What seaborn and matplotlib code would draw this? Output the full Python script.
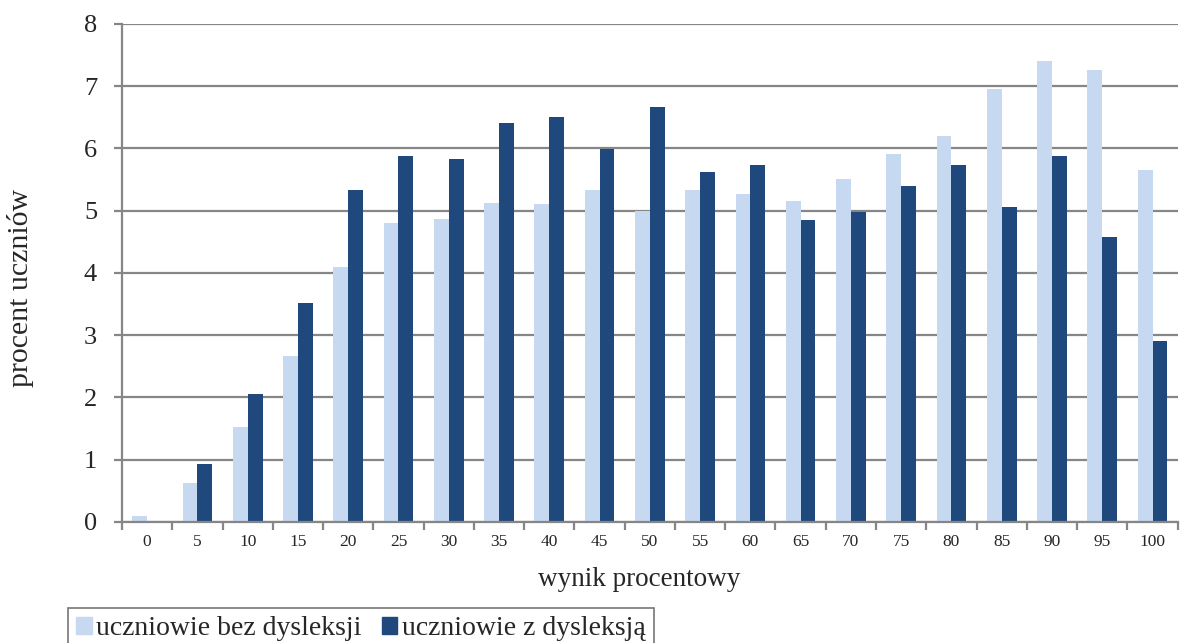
import matplotlib
matplotlib.use("Agg")
import matplotlib.pyplot as plt
import numpy as np
import pandas as pd
import seaborn as sns
from matplotlib.ticker import FixedLocator

scores = ["0", "5", "10", "15", "20", "25", "30", "35", "40", "45", "50",
          "55", "60", "65", "70", "75", "80", "85", "90", "95", "100"]
bez_dysleksji = [0.10, 0.62, 1.53, 2.66, 4.09, 4.80, 4.87, 5.12, 5.11, 5.34, 4.99,
                 5.34, 5.27, 5.16, 5.51, 5.91, 6.20, 6.96, 7.40, 7.26, 5.65]
z_dysleksja = [0.02, 0.93, 2.06, 3.51, 5.33, 5.88, 5.83, 6.41, 6.51, 5.99, 6.66,
               5.63, 5.73, 4.85, 4.98, 5.40, 5.73, 5.06, 5.88, 4.58, 2.91]
series = ["uczniowie bez dysleksji", "uczniowie z dysleksją"]
colors = ["#C6D9F1", "#1F497D"]

df = pd.DataFrame({
    "wynik": scores * 2,
    "procent": bez_dysleksji + z_dysleksja,
    "grupa": [series[0]] * len(scores) + [series[1]] * len(scores),
})

sns.set_style("white")
plt.rcParams["font.family"] = ["Liberation Serif", "DejaVu Serif"]

grid_col = "#868686"

fig = plt.figure(figsize=(11.8, 6.43), dpi=100)
ax = fig.add_axes([0.1034, 0.1882, 0.8946, 0.7745])

sns.barplot(data=df, x="wynik", y="procent", hue="grupa", order=scores,
            hue_order=series, palette=colors, width=0.59, gap=0,
            saturation=1, linewidth=0, ax=ax, legend=False)

ax.set_ylim(0, 8)
ax.set_xlim(-0.5, len(scores) - 0.5)
ax.set_yticks(range(0, 9))
ax.yaxis.grid(True, color=grid_col, linewidth=1.6)
ax.set_axisbelow(True)

for s in ["top", "right"]:
    ax.spines[s].set_visible(False)
for s in ["left", "bottom"]:
    ax.spines[s].set_color(grid_col)
    ax.spines[s].set_linewidth(1.6)

ax.tick_params(axis="y", which="major", length=6, width=1.6, color=grid_col,
               labelsize=19, pad=12, direction="out", left=True)
ax.tick_params(axis="x", which="major", length=0, labelsize=12.5, pad=9)
ax.xaxis.set_minor_locator(FixedLocator(np.arange(-0.5, len(scores), 1.0)))
ax.tick_params(axis="x", which="minor", length=6, width=1.6, color=grid_col,
               direction="out", bottom=True)

ax.set_xlabel("wynik procentowy", fontsize=19.5, labelpad=12)
ax.set_ylabel("procent uczniów", fontsize=21.5, labelpad=36)
ax.xaxis.label.set_x(0.49)
ax.yaxis.label.set_y(0.47)

handles = [plt.Rectangle((0, 0), 1, 1, color=c) for c in colors]
leg = fig.legend(handles, series, loc="upper left",
                 bbox_to_anchor=(68 / 1180, 1 - 608 / 643), ncol=2,
                 fontsize=20, frameon=True, fancybox=False,
                 handlelength=0.55, handleheight=0.55, handletextpad=0.15,
                 columnspacing=0.75, borderpad=0.3, borderaxespad=0)
leg.get_frame().set_edgecolor("#555555")
leg.get_frame().set_linewidth(1.2)

fig.savefig("out.png", dpi=100)
